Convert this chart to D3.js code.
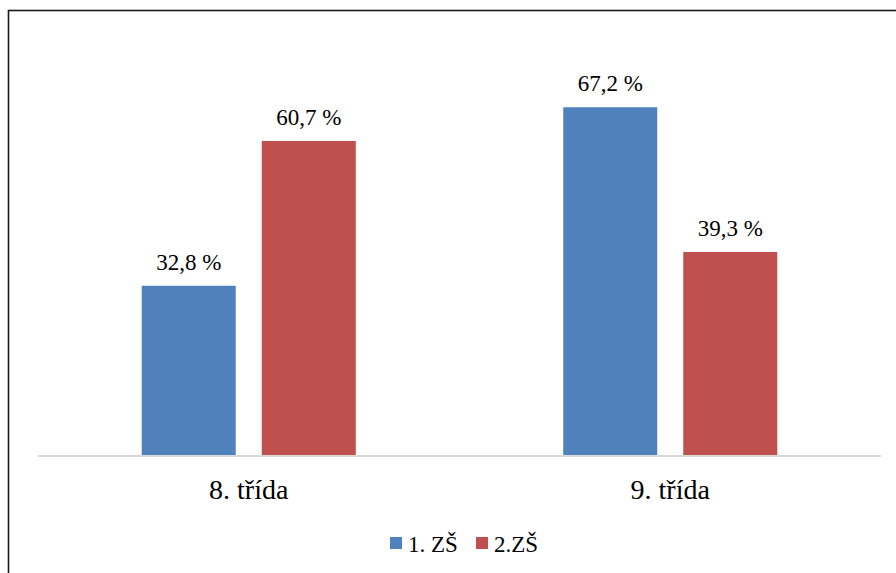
<!DOCTYPE html>
<html><head><meta charset="utf-8">
<script src="https://cdn.jsdelivr.net/npm/d3@7"></script>
<style>body{margin:0;background:#fff}svg{display:block}
text{font-family:"Liberation Serif","Times New Roman",serif}</style>
</head><body>
<svg id="c" width="896" height="573"></svg>
<script>
const categories = ["8. třída", "9. třída"];
const seriesNames = ["1. ZŠ", "2.ZŠ"];
const series1 = [32.8, 67.2];
const series2 = [60.7, 39.3];
const colors = ["#4F81BD", "#C0504D"];
const fmt = v => String(v).replace(".", ",") + " %";

const svg = d3.select("#c");

// outer border
svg.append("rect").attr("x", 8.5).attr("y", 10.5).attr("width", 900).attr("height", 600)
  .attr("fill", "none").attr("stroke", "#1a1a1a").attr("stroke-width", 1.6);

const x0 = d3.scaleBand().domain(categories).range([38, 881]);
const x1 = d3.scaleBand().domain([0, 1]).range([0, x0.bandwidth()]).paddingInner(0.2167).paddingOuter(0.864);
const y = d3.scaleLinear().domain([0, 80]).range([456, 40.8]);

const data = categories.map((c, i) => ({c, vals: [series1[i], series2[i]]}));

const g = svg.append("g");
data.forEach(d => {
  d.vals.forEach((v, s) => {
    const bx = x0(d.c) + x1(s);
    g.append("rect").attr("x", bx).attr("y", y(v)).attr("width", x1.bandwidth())
      .attr("height", y(0) - y(v)).attr("fill", colors[s]);
    g.append("text").attr("x", bx + x1.bandwidth() / 2).attr("y", y(v) - 16)
      .attr("text-anchor", "middle").attr("font-size", 23)
      .attr("fill", "#000").text(fmt(v));
  });
});

// baseline
svg.append("line").attr("x1", 38).attr("x2", 881).attr("y1", 456).attr("y2", 456)
  .attr("stroke", "#d9d9d9").attr("stroke-width", 2);

// category labels
categories.forEach(c => {
  svg.append("text").attr("x", x0(c) + x0.bandwidth() / 2).attr("y", 499)
    .attr("text-anchor", "middle").attr("font-size", 28)
    .attr("fill", "#000").text(c);
});

// legend
const leg = svg.append("g").attr("font-size", 23);
const items = [{x: 390, n: seriesNames[0], c: colors[0]}, {x: 476, n: seriesNames[1], c: colors[1]}];
items.forEach(it => {
  leg.append("rect").attr("x", it.x).attr("y", 537).attr("width", 12).attr("height", 12).attr("fill", it.c);
  leg.append("text").attr("x", it.x + 18).attr("y", 552).attr("fill", "#000").text(it.n);
});
</script>
</body></html>
